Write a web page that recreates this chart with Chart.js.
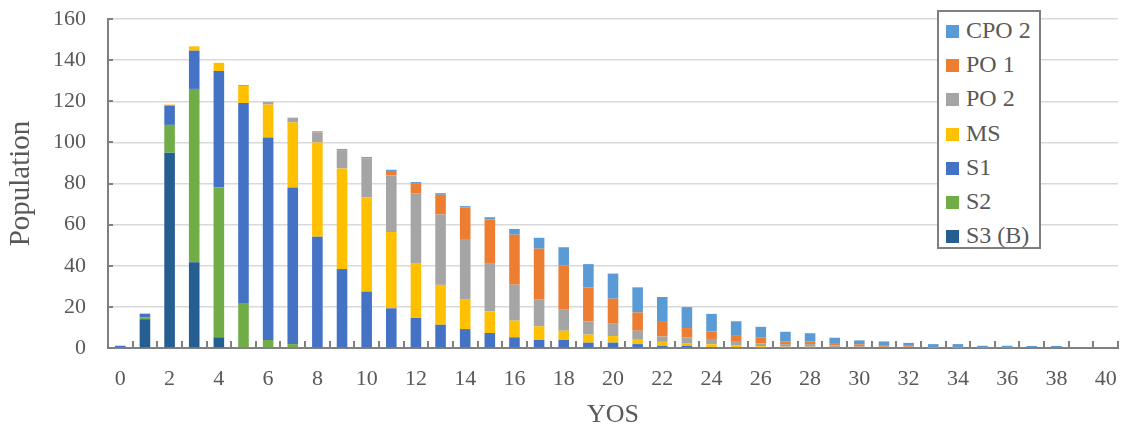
<!DOCTYPE html>
<html>
<head>
<meta charset="utf-8">
<script src="https://cdn.jsdelivr.net/npm/chart.js@4/dist/chart.umd.min.js"></script>
<style>
  html, body { margin: 0; padding: 0; background: #fff; }
  #wrap { position: relative; width: 1121px; height: 432px; }
  #legend {
    position: absolute; left: 937px; top: 10px; width: 100px; height: 235px;
    border: 2px solid #7f7f7f; background: #fff;
    font-family: "Liberation Serif", "DejaVu Serif", serif; font-size: 24px; color: #595959;
  }
  #legend .item { position: absolute; left: 7px; height: 26px; line-height: 26px; white-space: nowrap; }
  #legend .sw { display: inline-block; width: 13px; height: 13px; margin-right: 7px; vertical-align: 0px; }
</style>
</head>
<body>
<div id="wrap">
  <canvas id="c" width="1121" height="432"></canvas>
  <div id="legend"></div>
</div>
<script>
const yos = Array.from({ length: 41 }, (_, i) => String(i));

const s3b = [0, 14, 95, 41.7, 5.2, 0, 0, 0, 0, 0, 0, 0, 0, 0, 0, 0, 0, 0, 0, 0, 0, 0, 0, 0, 0, 0, 0, 0, 0, 0, 0, 0, 0, 0, 0, 0, 0, 0, 0, 0, 0];
const s2 = [0, 0.8, 13.5, 84.3, 72.9, 21.9, 3.9, 1.9, 0.3, 0, 0, 0, 0, 0, 0, 0, 0, 0, 0, 0, 0, 0, 0, 0, 0, 0, 0, 0, 0, 0, 0, 0, 0, 0, 0, 0, 0, 0, 0, 0, 0];
const s1 = [1.1, 1.9, 9.4, 18.6, 56.6, 97.2, 98.5, 76.2, 53.8, 38.4, 27.4, 19.3, 14.6, 11.3, 9.2, 7.3, 5.2, 3.9, 3.9, 2.6, 2.6, 1.9, 1.1, 1.1, 0.5, 0.4, 0.3, 0.2, 0.2, 0.2, 0.1, 0.1, 0.1, 0, 0, 0, 0, 0, 0, 0, 0];
const ms = [0, 0, 0.5, 2.1, 4, 8.3, 16, 31.6, 45.9, 48.9, 45.9, 37.1, 26.7, 19.4, 14.3, 10.5, 8.1, 6.6, 4.5, 3.9, 3.2, 2.1, 1.9, 1.3, 1.3, 0.8, 0.6, 0.4, 0.4, 0.3, 0.2, 0.2, 0.2, 0, 0, 0, 0, 0, 0, 0, 0];
const po2 = [0, 0, 0, 0, 0, 0.5, 1.3, 2.3, 4.9, 8.9, 19, 27.6, 34, 34.2, 29.5, 23.5, 17.5, 13, 10.2, 6.5, 6, 4.4, 2.6, 2.8, 2.6, 1.8, 1.3, 1.3, 1.3, 0.8, 0.5, 0.3, 0.3, 0.1, 0.1, 0, 0, 0, 0, 0, 0];
const po1 = [0, 0, 0, 0, 0, 0, 0, 0, 0.5, 0.6, 0.6, 2.1, 4.9, 9.6, 15.4, 21.2, 24.3, 24.8, 21.6, 16.5, 12.2, 8.9, 7.5, 4.5, 3.6, 2.9, 2.8, 1.3, 1.3, 1.1, 1.0, 0.8, 0.8, 0.2, 0.2, 0.1, 0.1, 0, 0, 0, 0];
const cpo2 = [0, 0, 0, 0, 0, 0, 0, 0, 0, 0, 0, 0.6, 0.5, 0.8, 0.6, 1.1, 2.8, 5.3, 8.8, 11.3, 12.2, 12.2, 11.7, 10.2, 8.6, 7.1, 5.3, 4.7, 4.0, 2.6, 1.9, 1.8, 1.1, 1.6, 1.6, 1.0, 1.0, 1.0, 1.0, 0, 0];

const yTicks = [0, 20, 40, 60, 80, 100, 120, 140, 160];

const serif = '"Liberation Serif", "DejaVu Serif", serif';
const textColor = '#595959';

// stacking order bottom -> top
const datasets = [
  { label: 'S3 (B)', data: s3b, backgroundColor: '#255e91' },
  { label: 'S2', data: s2, backgroundColor: '#70ad47' },
  { label: 'S1', data: s1, backgroundColor: '#4472c4' },
  { label: 'MS', data: ms, backgroundColor: '#ffc000' },
  { label: 'PO 2', data: po2, backgroundColor: '#a5a5a5' },
  { label: 'PO 1', data: po1, backgroundColor: '#ed7d31' },
  { label: 'CPO 2', data: cpo2, backgroundColor: '#5b9bd5' }
].map(d => ({ ...d, barPercentage: 0.43, categoryPercentage: 1, borderWidth: 0 }));

// small inward tick marks like the original axes
const innerTicks = {
  id: 'innerTicks',
  afterDatasetsDraw(chart) {
    const { ctx, chartArea, scales: { x, y } } = chart;
    ctx.save();
    ctx.strokeStyle = '#808080';
    ctx.lineWidth = 2;
    ctx.beginPath();
    const half = (x.getPixelForValue(1) - x.getPixelForValue(0)) / 2;
    for (let i = 0; i <= yos.length; i++) {
      const px = Math.round(x.getPixelForValue(i) - half);
      ctx.moveTo(px, chartArea.bottom);
      ctx.lineTo(px, chartArea.bottom - 7);
    }
    yTicks.forEach(v => {
      const py = Math.round(y.getPixelForValue(v));
      ctx.moveTo(chartArea.left, py);
      ctx.lineTo(chartArea.left + 5, py);
    });
    ctx.stroke();
    ctx.restore();
  }
};

const chart = new Chart(document.getElementById('c'), {
  type: 'bar',
  data: { labels: yos, datasets: datasets },
  options: {
    responsive: false,
    animation: false,
    layout: { padding: { top: 19, right: 3, left: 0, bottom: 0 } },
    plugins: { legend: { display: false }, tooltip: { enabled: false } },
    scales: {
      x: {
        stacked: true,
        grid: { display: true, drawOnChartArea: false, drawTicks: true, tickLength: 18, color: 'rgba(0,0,0,0)' },
        border: { color: '#808080', width: 2 },
        ticks: {
          autoSkip: false, maxRotation: 0, padding: 0,
          color: textColor, font: { family: serif, size: 22 },
          callback: (v, i) => (i % 2 === 0 ? yos[i] : '')
        },
        title: { display: true, text: 'YOS', color: textColor, font: { family: serif, size: 26 }, padding: { top: 0, bottom: 1 } },
        afterFit: s => { s.height = 84; }
      },
      y: {
        stacked: true,
        min: 0, max: 160,
        afterBuildTicks: s => { s.ticks = yTicks.map(v => ({ value: v })); },
        grid: { color: '#d9d9d9', lineWidth: 1.5, drawTicks: true, tickLength: 22, tickColor: 'rgba(0,0,0,0)' },
        border: { color: '#808080', width: 2 },
        ticks: { padding: 0, color: textColor, font: { family: serif, size: 22 } },
        title: { display: true, text: 'Population', color: textColor, font: { family: serif, size: 29 }, padding: { top: 4, bottom: 0 } },
        afterFit: s => { s.width = 108; }
      }
    }
  },
  plugins: [innerTicks]
});

// legend box drawn over the plot, top entry = top of stack
const legend = document.getElementById('legend');
datasets.slice().reverse().forEach((d, i) => {
  const it = document.createElement('div');
  it.className = 'item';
  it.style.top = (5 + i * 34.2) + 'px';
  it.innerHTML = '<span class="sw" style="background:' + d.backgroundColor + '"></span>' + d.label;
  legend.appendChild(it);
});
</script>
</body>
</html>
